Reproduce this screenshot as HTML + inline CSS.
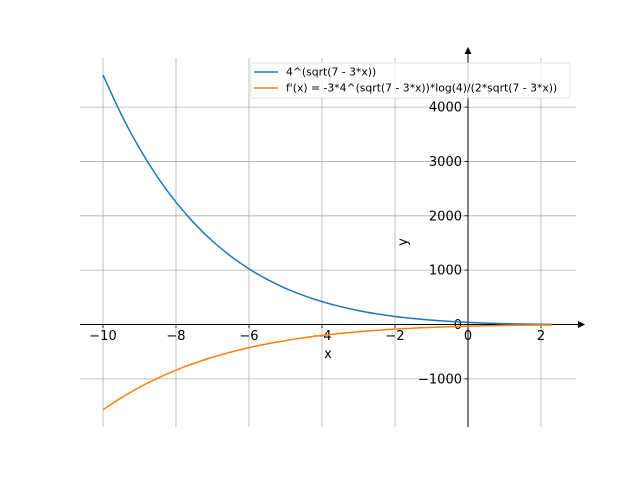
<!DOCTYPE html>
<html><head><meta charset="utf-8"><style>
body{margin:0;background:#fff}
svg{font-family:"DejaVu Sans","Liberation Sans",sans-serif}
</style></head><body>
<svg id="c" width="640" height="480" xmlns="http://www.w3.org/2000/svg"></svg>
<script>
const xs=[-10,-9.5,-9,-8.5,-8,-7.5,-7,-6.5,-6,-5.5,-5,-4.5,-4,-3.5,-3,-2.5,-2,-1.5,-1,-0.5,0,0.5,1,1.5,2,2.3];
const fVals=[4590,3866,3240,2706,2250,1862,1534,1257,1024,829,666.6,532,421,330,256,196.2,148.2,110.1,80.1,56.9,39.2,25.8,16,8.95,4,1.55];
const dVals=[-1569,-1349,-1155,-987,-840,-713,-603,-508,-426,-356,-296,-244,-201,-164,-133,-107,-85.5,-67.5,-52.7,-40.6,-30.8,-22.9,-16.6,-11.8,-8.3,-10.2];
const xTicks=[-10,-8,-6,-4,-2,0,2];
const xTickLabels=["\u221210","\u22128","\u22126","\u22124","\u22122","0","2"];
const yTicks=[-1000,0,1000,2000,3000,4000];
const yTickLabels=["\u22121000","0","1000","2000","3000","4000"];
const seriesNames=["4^(sqrt(7 - 3*x))","f'(x) = -3*4^(sqrt(7 - 3*x))*log(4)/(2*sqrt(7 - 3*x))"];

const svg=document.getElementById('c');
const NS='http://www.w3.org/2000/svg';
const X=v=>468+v*36.5;
const Y=v=>324.5-v*0.05435;
function mk(t,a,p){const e=document.createElementNS(NS,t);for(const k in a)e.setAttribute(k,a[k]);(p||svg).appendChild(e);return e;}
const L=80,R=576,T=58,B=427;
xTicks.forEach((t,i)=>{
 const g=mk('line',{x1:X(t),x2:X(t),y1:T,y2:B,stroke:'#b0b0b0','stroke-width':0.8});
 
 
 const tk=mk('line',{x1:X(t),x2:X(t),y1:324.5,y2:328,stroke:'#000','stroke-width':0.8});
 
 
 const tx=mk('text',{x:X(t),y:340,'font-size':13,'text-anchor':'middle'});
 tx.textContent=xTickLabels[i];
 
 
});
yTicks.forEach((t,i)=>{
 const g=mk('line',{x1:L,x2:R,y1:Y(t),y2:Y(t),stroke:'#b0b0b0','stroke-width':0.8});
 
 
 const tk=mk('line',{x1:464.5,x2:468,y1:Y(t),y2:Y(t),stroke:'#000','stroke-width':0.8});
 
 
 const tx=mk('text',{x:462,y:Y(t)+4.5,'font-size':13,'text-anchor':'end'});
 tx.textContent=yTickLabels[i];
 
 
});
const ax=mk('line',{x1:L,x2:584,y1:324.5,y2:324.5,stroke:'#000','stroke-width':1});


const ay=mk('line',{x1:468,x2:468,y1:50,y2:B,stroke:'#000','stroke-width':1});


const a1=mk('path',{d:'M585,324.5 L578,321 L578,328 Z',fill:'#000'});


const a2=mk('path',{d:'M468,47 L464.5,54 L471.5,54 Z',fill:'#000'});


const colors=['#1f77b4','#ff7f0e'];
function smooth(pts){
 let d='M'+pts[0][0].toFixed(2)+','+pts[0][1].toFixed(2);
 for(let i=0;i<pts.length-1;i++){
  const p0=pts[Math.max(0,i-1)],p1=pts[i],p2=pts[i+1],p3=pts[Math.min(pts.length-1,i+2)];
  const c1=[p1[0]+(p2[0]-p0[0])/6,p1[1]+(p2[1]-p0[1])/6];
  const c2=[p2[0]-(p3[0]-p1[0])/6,p2[1]-(p3[1]-p1[1])/6];
  d+=' C'+c1[0].toFixed(2)+','+c1[1].toFixed(2)+' '+c2[0].toFixed(2)+','+c2[1].toFixed(2)+' '+p2[0].toFixed(2)+','+p2[1].toFixed(2);
 }
 return d;
}
[fVals,dVals].forEach((vals,s)=>{
 const pts=xs.map((x,i)=>[X(x),Y(vals[i])]);
 const p=mk('path',{d:smooth(pts),fill:'none',stroke:colors[s],'stroke-width':1.5});
 
 
});
const xl=mk('text',{x:328,y:358,'font-size':13,'text-anchor':'middle'});xl.textContent='x';


const yl=mk('text',{x:407,y:242,'font-size':13,'text-anchor':'middle',transform:'rotate(-90 407 242)'});yl.textContent='y';


const lg=mk('g',{});


mk('rect',{x:251,y:63,width:319,height:35,rx:2,fill:'#fff','fill-opacity':0.8,stroke:'#ddd','stroke-width':0.8},lg);
seriesNames.forEach((n,i)=>{
 const yy=72+i*16;
 const ln=mk('line',{x1:254,x2:278,y1:yy,y2:yy,stroke:colors[i],'stroke-width':1.5},lg);
 
 
 const t=mk('text',{x:286,y:yy+3.5,'font-size':10.8},lg);
 t.textContent=n;
 
 
});
</script>
</body></html>
